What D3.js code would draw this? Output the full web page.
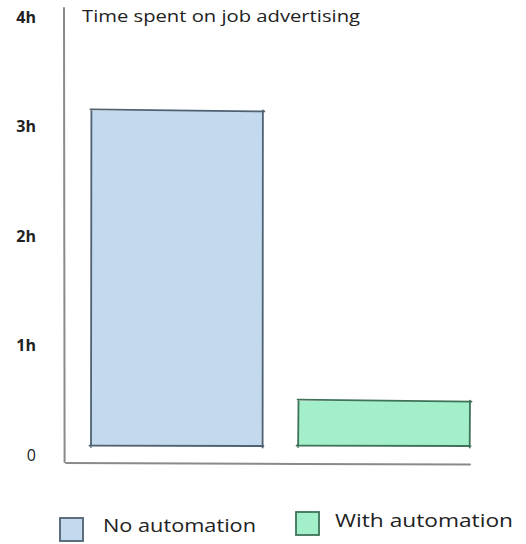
<!DOCTYPE html>
<html>
<head>
<meta charset="utf-8">
<script src="https://cdn.jsdelivr.net/npm/d3@7"></script>
<style>
  html, body { margin: 0; padding: 0; background: #fff; }
  svg { display: block; }
  text { font-family: "Open Sans", "DejaVu Sans", sans-serif; fill: #222; }
</style>
</head>
<body>
<svg id="chart" width="526" height="544"></svg>
<script>
// Hours spent on job advertising, with and without automation
const categories = ["No automation", "With automation"];
const hours = [3.06, 0.41];
const tickValues = [0, 1, 2, 3, 4];
const tickLabels = ["0", "1h", "2h", "3h", "4h"];
const fills = ["#c3d9ee", "#a2efc9"];
const strokes = ["#4f6173", "#3f7259"];
const title = "Time spent on job advertising";

const svg = d3.select("#chart");

const x = d3.scaleBand().domain(categories).range([91, 470]).paddingInner(0.17).paddingOuter(0);
const y = d3.scaleLinear().domain([0, 4]).range([446, 8]);

// Axis lines, drawn as loose strokes
const axisG = svg.append("g").attr("stroke", "#8a8a8a").attr("stroke-width", 2).attr("fill", "none").attr("stroke-linecap", "round");
axisG.append("path").attr("d", `M64,${y(4)} L64.6,${y(0) + 16}`);
axisG.append("path").attr("d", `M66,${y(0) + 17} L300,${y(0) + 18} L470,${y(0) + 18.5}`);

// Tick labels on the value axis
svg.append("g").selectAll("text").data(tickValues).join("text")
  .attr("x", 36)
  .attr("y", d => y(d) + 9)
  .attr("dy", "0.35em")
  .attr("text-anchor", "end")
  .attr("font-size", 16)
  .attr("font-weight", d => d === 0 ? 400 : 700)
  .text((d, i) => tickLabels[i]);

// Title
svg.append("text")
  .attr("x", 82).attr("y", 16).attr("dy", "0.35em")
  .attr("font-size", 17)
  .attr("font-weight", 500)
  .attr("textLength", 278).attr("lengthAdjust", "spacingAndGlyphs")
  .text(title);

// Bars: fill plus slightly overshooting sketch edges
const bars = svg.append("g").selectAll("g").data(categories).join("g");
bars.append("rect")
  .attr("x", d => x(d))
  .attr("y", (d, i) => y(hours[i]))
  .attr("width", x.bandwidth())
  .attr("height", (d, i) => y(0) - y(hours[i]))
  .attr("fill", (d, i) => fills[i]);
bars.append("path")
  .attr("fill", "none")
  .attr("stroke", (d, i) => strokes[i])
  .attr("stroke-width", 1.8)
  .attr("stroke-linecap", "round")
  .attr("d", (d, i) => {
    const x0 = x(d), x1 = x(d) + x.bandwidth();
    const y0 = y(hours[i]), y1 = y(0);
    return `M${x0 - 0.5},${y0 - 1.5} L${x1 + 1.5},${y0 + 0.5}` +
           `M${x1},${y0 - 0.5} L${x1 - 0.3},${y1 + 1.5}` +
           `M${x1 + 0.5},${y1} L${x0 - 1.5},${y1 - 0.3}` +
           `M${x0},${y1 + 1} L${x0 + 0.4},${y0 - 1}`;
  });

// Legend
const legendPos = [{ x: 60, y: 518, tx: 103, ty: 526 }, { x: 296, y: 512, tx: 335, ty: 521 }];
const legend = svg.append("g").selectAll("g").data(categories).join("g");
legend.append("rect")
  .attr("x", (d, i) => legendPos[i].x)
  .attr("y", (d, i) => legendPos[i].y)
  .attr("width", 23).attr("height", 23)
  .attr("fill", (d, i) => fills[i])
  .attr("stroke", (d, i) => strokes[i])
  .attr("stroke-width", 1.8);
legend.append("text")
  .attr("x", (d, i) => legendPos[i].tx)
  .attr("y", (d, i) => legendPos[i].ty)
  .attr("dy", "0.35em")
  .attr("font-size", 18)
  .attr("font-weight", 500)
  .attr("textLength", (d, i) => i === 0 ? 153 : 178)
  .attr("lengthAdjust", "spacingAndGlyphs")
  .text(d => d);
</script>
</body>
</html>
